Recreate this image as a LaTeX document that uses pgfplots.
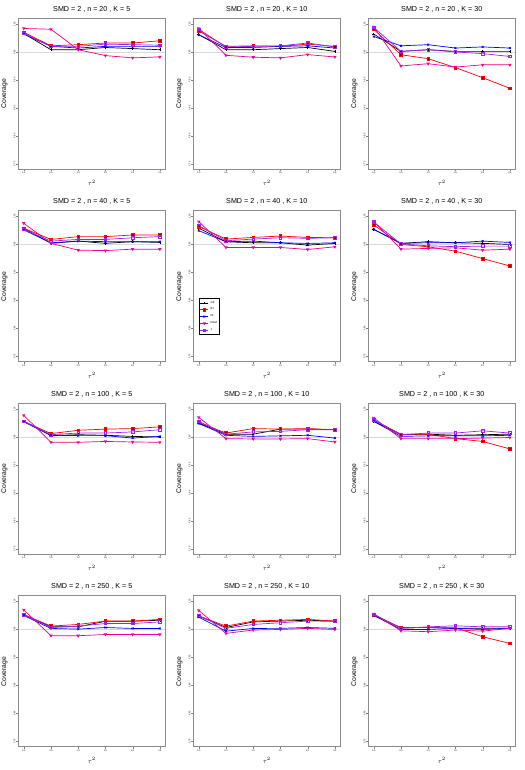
\documentclass[border=0pt]{standalone}
\usepackage{fontspec}
\setmainfont{Liberation Sans}
\usepackage{pgfplots}
\usepackage{pgfplotstable}
\pgfplotsset{compat=1.18}
\definecolor{rpurple}{HTML}{A020F0}
\definecolor{framegray}{HTML}{8C8C8C}
\definecolor{refgray}{HTML}{D9D9D9}

% columns: t GP BJ PL KGM J
\pgfplotstableread{
t   GP     BJ     PL     KGM    J
0.0 0.983  0.985  0.982  0.992  0.9835
0.5 0.954  0.961  0.960  0.9906 0.960
1.0 0.954  0.963  0.957  0.954  0.960
1.5 0.958  0.966  0.960  0.9435 0.964
2.0 0.956  0.966  0.960  0.9394 0.963
2.5 0.954  0.970  0.960  0.9412 0.962
}\tA
\pgfplotstableread{
t   GP     BJ     PL     KGM    J
0.0 0.981  0.9876 0.9806 0.992  0.9906
0.5 0.954  0.960  0.958  0.944  0.959
1.0 0.954  0.961  0.958  0.9406 0.960
1.5 0.956  0.960  0.960  0.9394 0.961
2.0 0.958  0.964  0.961  0.9453 0.966
2.5 0.951  0.960  0.957  0.941  0.959
}\tB
\pgfplotstableread{
t   GP     BJ     PL     KGM    J
0.0 0.982  0.9906 0.9776 0.995  0.994
0.5 0.951  0.945  0.961  0.925  0.951
1.0 0.954  0.938  0.963  0.929  0.954
1.5 0.951  0.922  0.957  0.923  0.950
2.0 0.951  0.904  0.959  0.927  0.947
2.5 0.951  0.885  0.957  0.927  0.942
}\tC
\pgfplotstableread{
t   GP     BJ     PL     KGM    J
0.0 0.979  0.979  0.976  0.988  0.977
0.5 0.952  0.959  0.953  0.952  0.956
1.0 0.956  0.964  0.956  0.9398 0.959
1.5 0.952  0.964  0.955  0.939  0.959
2.0 0.955  0.967  0.955  0.9416 0.962
2.5 0.9536 0.967  0.955  0.9416 0.964
}\tD
\pgfplotstableread{
t   GP     BJ     PL     KGM    J
0.0 0.979  0.982  0.9747 0.991  0.9837
0.5 0.9548 0.9596 0.9548 0.9446 0.9566
1.0 0.953  0.9626 0.956  0.9446 0.9596
1.5 0.953  0.965  0.953  0.9446 0.962
2.0 0.9488 0.9626 0.9518 0.941  0.961
2.5 0.9518 0.962  0.953  0.9458 0.962
}\tE
\pgfplotstableread{
t   GP     BJ     PL     KGM    J
0.0 0.977  0.985  0.977  0.991  0.990
0.5 0.952  0.950  0.952  0.9416 0.951
1.0 0.955  0.9458 0.953  0.943  0.9476
1.5 0.953  0.938  0.953  0.944  0.946
2.0 0.952  0.9247 0.956  0.9398 0.947
2.5 0.950  0.9115 0.9536 0.9416 0.947
}\tF
\pgfplotstableread{
t   GP     BJ     PL     KGM    J
0.0 0.978  0.978  0.977  0.9887 0.978
0.5 0.9524 0.956  0.953  0.9405 0.954
1.0 0.954  0.962  0.9524 0.9405 0.957
1.5 0.953  0.964  0.9524 0.942  0.957
2.0 0.951  0.965  0.948  0.941  0.959
2.5 0.950  0.968  0.951  0.9405 0.963
}\tG
\pgfplotstableread{
t   GP     BJ     PL     KGM    J
0.0 0.975  0.976  0.974  0.985  0.978
0.5 0.955  0.957  0.953  0.947  0.955
1.0 0.955  0.965  0.951  0.9464 0.959
1.5 0.964  0.964  0.952  0.9464 0.960
2.0 0.964  0.965  0.953  0.947  0.963
2.5 0.963  0.963  0.948  0.941  0.963
}\tH
\pgfplotstableread{
t   GP     BJ     PL     KGM    J
0.0 0.978  0.980  0.978  0.984  0.981
0.5 0.954  0.955  0.951  0.947  0.954
1.0 0.955  0.955  0.952  0.947  0.957
1.5 0.953  0.947  0.952  0.947  0.957
2.0 0.954  0.942  0.952  0.948  0.961
2.5 0.955  0.9286 0.953  0.949  0.957
}\tI
\pgfplotstableread{
t   GP     BJ     PL     KGM    J
0.0 0.9765 0.9765 0.975  0.985  0.9765
0.5 0.9547 0.956  0.9518 0.9388 0.9535
1.0 0.9547 0.959  0.9506 0.9388 0.956
1.5 0.9647 0.965  0.9535 0.941  0.9606
2.0 0.9647 0.965  0.9518 0.941  0.9606
2.5 0.9665 0.968  0.9518 0.941  0.9635
}\tJ
\pgfplotstableread{
t   GP     BJ     PL     KGM    J
0.0 0.974  0.974  0.972  0.984  0.975
0.5 0.9535 0.956  0.947  0.943  0.952
1.0 0.9635 0.965  0.9518 0.949  0.959
1.5 0.965  0.9665 0.952  0.950  0.962
2.0 0.9665 0.968  0.9535 0.952  0.965
2.5 0.965  0.965  0.952  0.950  0.9647
}\tK
\pgfplotstableread{
t   GP     BJ     PL     KGM    J
0.0 0.975  0.9765 0.975  0.978  0.977
0.5 0.953  0.953  0.950  0.9476 0.952
1.0 0.9535 0.9535 0.950  0.946  0.9547
1.5 0.952  0.953  0.952  0.949  0.9565
2.0 0.952  0.937  0.950  0.947  0.9547
2.5 0.952  0.925  0.952  0.952  0.9547
}\tL

\pgfplotsset{
  pan/.style={
    scale only axis, width=147bp, height=151bp, anchor=north west,
    xmin=-0.1, xmax=2.6, ymin=0.74, ymax=1.01,
    xtick={0,0.5,1,1.5,2,2.5}, ytick={0.75,0.8,0.85,0.9,0.95,1},
    xtick pos=left, ytick pos=left, tick align=outside,
    major tick length=2bp,
    axis line style={draw=framegray, line width=0.9bp},
    /pgf/number format/assume math mode=true,
    xticklabel style={/pgf/number format/.cd, fixed, fixed zerofill, precision=1},
    yticklabel style={rotate=90, anchor=south, /pgf/number format/.cd, fixed, fixed zerofill, precision=2},
    tick label style={font=\fontsize{2.3}{2.6}\selectfont, inner sep=0.6bp},
    ylabel={Coverage},
    ylabel style={at={(axis description cs:-0.072,0.5)}, anchor=south, inner sep=0pt, font=\fontsize{6.8}{8}\selectfont},
    xlabel={$\tau^2$},
    xlabel style={at={(axis description cs:0.5,-0.09)}, anchor=center, inner sep=0pt, font=\fontsize{6}{7}\selectfont},
    every axis plot/.append style={line width=0.7bp, mark size=1.3bp},
    legend style={at={(0.04,0.42)}, anchor=north west, draw=black, line width=0.3bp,
      font=\fontsize{2.8}{3.2}\selectfont, inner sep=0.6bp, row sep=-0.6bp,
      cells={anchor=west}},
    legend image code/.code={\draw[mark repeat=2, mark phase=2, #1]
      plot coordinates {(0bp,0bp) (4bp,0bp) (8bp,0bp)};},
  }
}

\newcommand{\panel}[5]{%
  \begin{axis}[pan, at={(#1bp,#2bp)}, #5,
      extra description/.code={
        \draw[framegray, line width=0.9bp] (rel axis cs:0,0) rectangle (rel axis cs:1,1);
        \node[font=\fontsize{7.2}{8}\selectfont, inner sep=0pt] at (rel axis cs:0.5,1.062) {#3};}]
    \addplot[refgray, line width=0.8bp, forget plot] coordinates {(-0.1,0.95) (2.6,0.95)};
    \addplot[black, mark=+] table[x=t, y=GP] {#4};
    \addplot[red, mark=square*, mark options={fill=red!60!black}] table[x=t, y=BJ] {#4};
    \addplot[blue, mark=x] table[x=t, y=PL] {#4};
    \addplot[magenta, mark=triangle, mark options={rotate=180}] table[x=t, y=KGM] {#4};
    \addplot[rpurple, mark=square] table[x=t, y=J] {#4};
  \end{axis}}

\begin{document}
\begin{tikzpicture}
\useasboundingbox (0,0) rectangle (525bp,-770bp);
\panel{18.3}{-18.4}{SMD = 2 , n = 20 , K = 5}{\tA}{}
\panel{193.3}{-18.4}{SMD = 2 , n = 20 , K = 10}{\tB}{}
\panel{368.3}{-18.4}{SMD = 2 , n = 20 , K = 30}{\tC}{}
\panel{18.3}{-210.9}{SMD = 2 , n = 40 , K = 5}{\tD}{}
\panel{193.3}{-210.9}{SMD = 2 , n = 40 , K = 10}{\tE}{legend entries={GP,BJ,PL,KGM,J}}
\panel{368.3}{-210.9}{SMD = 2 , n = 40 , K = 30}{\tF}{}
\panel{18.3}{-403.4}{SMD = 2 , n = 100 , K = 5}{\tG}{}
\panel{193.3}{-403.4}{SMD = 2 , n = 100 , K = 10}{\tH}{}
\panel{368.3}{-403.4}{SMD = 2 , n = 100 , K = 30}{\tI}{}
\panel{18.3}{-595.9}{SMD = 2 , n = 250 , K = 5}{\tJ}{}
\panel{193.3}{-595.9}{SMD = 2 , n = 250 , K = 10}{\tK}{}
\panel{368.3}{-595.9}{SMD = 2 , n = 250 , K = 30}{\tL}{}
\end{tikzpicture}
\end{document}
